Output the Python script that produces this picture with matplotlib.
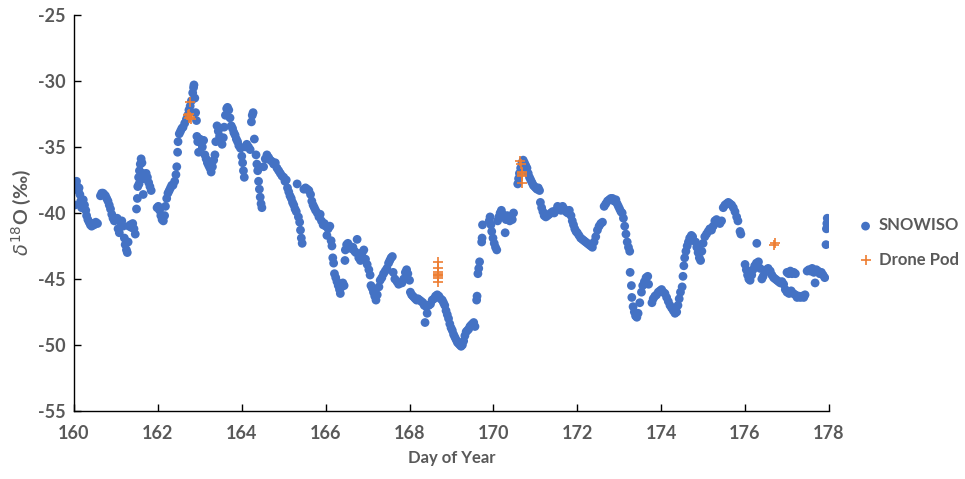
import matplotlib
matplotlib.use("Agg")
import matplotlib.pyplot as plt

# SNOWISO d18O, (day of year, value), one list per day
snow_160 = [(160.02, -39.4), (160.04, -37.9), (160.06, -37.6), (160.08, -38.0), (160.10, -38.3),
            (160.12, -38.1), (160.14, -38.6), (160.16, -39.1), (160.18, -39.6), (160.20, -39.2),
            (160.22, -39.0), (160.25, -39.4), (160.28, -39.8), (160.30, -40.2), (160.33, -40.5),
            (160.36, -40.7), (160.39, -40.9), (160.42, -41.0), (160.45, -40.8), (160.48, -40.9),
            (160.52, -40.7), (160.56, -40.8), (160.63, -38.7), (160.66, -38.5), (160.69, -38.5),
            (160.72, -38.6), (160.75, -38.7), (160.78, -38.9), (160.81, -39.1), (160.84, -39.4),
            (160.87, -39.7), (160.90, -40.1), (160.93, -40.4), (160.96, -40.6)]
snow_161 = [(161.00, -40.5), (161.03, -40.4), (161.05, -41.2), (161.08, -41.5), (161.11, -40.7),
            (161.14, -40.6), (161.17, -41.0), (161.20, -41.9), (161.22, -42.4), (161.25, -42.8),
            (161.27, -43.0), (161.29, -42.2), (161.31, -41.0), (161.34, -40.9), (161.37, -41.1),
            (161.40, -40.8), (161.43, -41.2), (161.46, -41.6), (161.49, -39.7), (161.51, -38.9),
            (161.52, -38.0), (161.54, -37.3), (161.56, -36.8), (161.58, -36.3), (161.60, -35.9),
            (161.62, -36.2), (161.64, -37.0), (161.65, -38.6), (161.66, -37.4), (161.69, -37.2),
            (161.72, -37.0), (161.75, -37.3), (161.78, -37.7), (161.81, -38.0), (161.84, -38.3),
            (161.55, -37.8)]
snow_162 = [(161.98, -39.6), (162.01, -39.5), (162.04, -39.8), (162.07, -40.2), (162.10, -40.5),
            (162.13, -40.6), (162.16, -40.2), (162.18, -39.5), (162.21, -38.9), (162.24, -38.5),
            (162.27, -38.3), (162.30, -38.1), (162.33, -37.9), (162.36, -37.9), (162.40, -37.6),
            (162.43, -37.1), (162.45, -36.5), (162.47, -35.4), (162.48, -34.6), (162.51, -34.0),
            (162.54, -33.8), (162.57, -33.6), (162.60, -33.5), (162.64, -33.2), (162.68, -32.9),
            (162.71, -32.6), (162.74, -32.2), (162.77, -31.9), (162.80, -31.5), (162.83, -30.9),
            (162.85, -30.5), (162.86, -30.3), (162.88, -31.3), (162.90, -32.4), (162.92, -33.0),
            (162.93, -34.2), (162.95, -34.6), (162.97, -35.4)]
snow_163 = [(163.00, -34.4), (163.03, -34.7), (163.06, -35.0), (163.09, -34.5), (163.12, -35.6),
            (163.15, -35.9), (163.18, -36.2), (163.21, -36.4), (163.24, -36.6), (163.27, -36.9),
            (163.30, -36.5), (163.33, -36.0), (163.36, -35.6), (163.38, -34.6), (163.41, -33.4),
            (163.44, -33.8), (163.47, -34.2), (163.50, -34.5), (163.53, -34.8), (163.56, -34.3),
            (163.58, -33.5), (163.61, -32.6), (163.64, -32.1), (163.66, -32.0), (163.69, -32.2),
            (163.72, -32.8), (163.75, -33.4), (163.78, -33.6), (163.81, -33.9), (163.84, -34.1),
            (163.87, -34.4), (163.90, -34.6), (163.93, -34.9), (163.97, -35.1)]
snow_164 = [(164.00, -35.7), (164.02, -36.2), (164.04, -36.8), (164.06, -37.3), (164.09, -35.0),
            (164.12, -34.8), (164.16, -35.0), (164.20, -35.2), (164.23, -33.1), (164.25, -32.6),
            (164.27, -32.4), (164.30, -34.4), (164.34, -35.6), (164.36, -36.3), (164.38, -36.8),
            (164.40, -37.6), (164.42, -38.2), (164.44, -38.8), (164.46, -39.3), (164.48, -39.6),
            (164.52, -36.5), (164.56, -35.9), (164.60, -35.6), (164.64, -35.8), (164.68, -36.0),
            (164.72, -36.1), (164.76, -36.3), (164.80, -36.2), (164.84, -36.6), (164.88, -36.8),
            (164.92, -37.0), (164.96, -37.2)]
snow_165 = [(165.00, -37.3), (165.03, -37.6), (165.06, -37.5), (165.09, -38.1), (165.12, -38.4),
            (165.15, -38.7), (165.18, -38.9), (165.21, -39.2), (165.24, -39.4), (165.27, -39.7),
            (165.30, -39.9), (165.32, -37.8), (165.35, -40.3), (165.38, -40.7), (165.40, -41.3),
            (165.42, -41.9), (165.44, -42.3), (165.48, -38.2), (165.52, -38.1), (165.56, -38.2),
            (165.60, -38.3), (165.64, -38.6), (165.67, -39.1), (165.70, -39.4), (165.73, -39.6),
            (165.76, -39.8), (165.80, -40.0), (165.84, -40.3), (165.87, -40.1), (165.90, -40.6),
            (165.94, -40.9), (165.97, -40.8)]
snow_166 = [(166.00, -41.0), (166.03, -41.7), (166.06, -41.2), (166.10, -41.0), (166.13, -42.1),
            (166.15, -42.5), (166.17, -43.4), (166.19, -43.8), (166.21, -44.6), (166.24, -44.9),
            (166.27, -45.2), (166.30, -45.5), (166.33, -45.8), (166.35, -46.1), (166.38, -45.6),
            (166.41, -45.3), (166.44, -45.5), (166.46, -43.6), (166.47, -42.8), (166.50, -42.4),
            (166.53, -42.3), (166.57, -42.5), (166.61, -42.7), (166.65, -42.6), (166.69, -42.9),
            (166.72, -43.0), (166.75, -42.0), (166.79, -43.4), (166.83, -43.6), (166.87, -43.0),
            (166.91, -42.8), (166.95, -43.5), (166.99, -43.9)]
snow_167 = [(167.03, -44.3), (167.06, -44.7), (167.08, -45.5), (167.11, -45.7), (167.14, -46.0),
            (167.17, -46.3), (167.20, -46.6), (167.23, -46.2), (167.27, -45.6), (167.30, -45.1),
            (167.34, -44.9), (167.38, -44.6), (167.42, -44.4), (167.46, -44.2), (167.50, -43.8),
            (167.53, -43.6), (167.56, -43.4), (167.59, -43.3), (167.61, -44.5), (167.65, -45.0),
            (167.70, -45.2), (167.74, -45.4), (167.78, -45.3), (167.82, -45.3), (167.86, -45.0),
            (167.90, -44.5), (167.93, -44.3), (167.96, -44.6), (168.00, -45.1)]
snow_168 = [(168.02, -46.0), (168.05, -46.2), (168.08, -46.3), (168.11, -46.4), (168.14, -46.5),
            (168.17, -46.6), (168.20, -46.5), (168.24, -46.6), (168.28, -46.7), (168.32, -46.8),
            (168.35, -47.0), (168.37, -48.3), (168.40, -47.1), (168.42, -47.6), (168.46, -47.0),
            (168.50, -46.9), (168.54, -46.6), (168.58, -46.5), (168.62, -46.3), (168.66, -46.2),
            (168.70, -46.3), (168.74, -46.5), (168.78, -46.6), (168.81, -46.8), (168.84, -47.0),
            (168.87, -47.4), (168.90, -47.7), (168.93, -48.0), (168.96, -48.4), (168.99, -48.7)]
snow_169 = [(169.02, -48.9), (169.05, -49.2), (169.08, -49.4), (169.11, -49.6), (169.14, -49.8),
            (169.17, -49.9), (169.20, -50.0), (169.23, -50.1), (169.26, -50.0), (169.29, -49.7),
            (169.32, -49.3), (169.35, -49.0), (169.38, -48.9), (169.41, -48.8), (169.44, -48.6),
            (169.47, -48.5), (169.50, -48.4), (169.53, -48.3), (169.56, -48.6), (169.60, -46.6),
            (169.61, -46.3), (169.63, -44.6), (169.65, -44.2), (169.67, -43.7), (169.72, -42.2),
            (169.73, -41.9), (169.74, -40.9), (169.90, -40.6), (169.92, -40.3), (169.94, -40.9),
            (169.96, -41.4), (169.99, -41.9)]
snow_170 = [(170.02, -42.3), (170.05, -42.6), (170.08, -42.8), (170.10, -40.6), (170.13, -40.3),
            (170.16, -40.0), (170.19, -39.8), (170.22, -40.1), (170.25, -40.3), (170.28, -41.5),
            (170.30, -40.5), (170.33, -40.2), (170.36, -40.4), (170.39, -40.6), (170.42, -40.3),
            (170.45, -40.5), (170.48, -40.0), (170.58, -37.8), (170.60, -37.4), (170.62, -37.0),
            (170.65, -36.6), (170.68, -36.2), (170.71, -36.0), (170.74, -36.2), (170.77, -36.4),
            (170.80, -36.6), (170.83, -37.0), (170.86, -37.3), (170.89, -37.5), (170.92, -37.7),
            (170.95, -37.9), (170.98, -38.0)]
snow_171 = [(171.01, -38.1), (171.04, -38.2), (171.07, -38.1), (171.10, -38.3), (171.12, -39.2),
            (171.15, -39.6), (171.18, -39.9), (171.21, -40.2), (171.25, -40.3), (171.29, -40.2),
            (171.33, -40.1), (171.37, -40.0), (171.41, -39.9), (171.45, -40.0), (171.49, -39.8),
            (171.53, -39.5), (171.57, -39.6), (171.61, -39.8), (171.65, -39.5), (171.69, -39.7),
            (171.73, -39.9), (171.77, -40.0), (171.81, -39.8), (171.85, -40.2), (171.88, -40.6),
            (171.91, -40.9), (171.94, -41.2), (171.97, -41.4)]
snow_172 = [(172.00, -41.5), (172.04, -41.7), (172.08, -41.9), (172.12, -42.0), (172.16, -42.1),
            (172.20, -42.2), (172.24, -42.3), (172.28, -42.4), (172.32, -42.5), (172.36, -42.6),
            (172.40, -42.2), (172.44, -41.8), (172.48, -41.3), (172.52, -41.0), (172.56, -40.8),
            (172.60, -40.7), (172.64, -39.5), (172.68, -39.3), (172.72, -39.1), (172.76, -39.0),
            (172.80, -38.9), (172.84, -38.9), (172.88, -39.1), (172.92, -39.0), (172.95, -39.3),
            (172.98, -39.5), (173.01, -39.7), (173.04, -39.9), (173.07, -40.0)]
snow_173 = [(173.10, -40.4), (173.13, -41.0), (173.16, -41.6), (173.19, -42.2), (173.22, -42.6),
            (173.25, -42.9), (173.26, -44.5), (173.29, -45.5), (173.30, -46.4), (173.33, -47.1),
            (173.36, -47.5), (173.39, -47.8), (173.42, -47.9), (173.45, -47.6), (173.49, -46.8),
            (173.53, -46.0), (173.56, -45.5), (173.60, -45.2), (173.64, -44.9), (173.68, -44.8),
            (173.70, -45.4), (173.78, -46.8), (173.81, -46.5), (173.85, -46.3), (173.89, -46.2),
            (173.93, -46.0), (173.97, -45.9)]
snow_174 = [(174.01, -45.8), (174.05, -46.0), (174.09, -46.1), (174.13, -46.4), (174.17, -46.7),
            (174.21, -47.0), (174.25, -47.2), (174.29, -47.4), (174.33, -47.6), (174.37, -47.5),
            (174.40, -47.0), (174.43, -46.5), (174.46, -46.0), (174.50, -45.6), (174.52, -44.8),
            (174.54, -44.0), (174.56, -43.4), (174.59, -42.9), (174.62, -42.5), (174.65, -42.2),
            (174.68, -41.9), (174.72, -41.7), (174.75, -41.8), (174.82, -42.2), (174.85, -42.6),
            (174.88, -43.0), (174.91, -43.4), (174.94, -43.6), (174.97, -42.9)]
snow_175 = [(175.00, -42.3), (175.04, -41.8), (175.08, -41.6), (175.12, -41.4), (175.16, -41.2),
            (175.20, -41.3), (175.24, -41.0), (175.28, -40.6), (175.32, -40.5), (175.36, -40.7),
            (175.40, -40.8), (175.44, -40.6), (175.48, -39.6), (175.52, -39.4), (175.56, -39.3),
            (175.60, -39.2), (175.64, -39.3), (175.68, -39.4), (175.72, -39.6), (175.76, -39.9),
            (175.80, -40.3), (175.83, -40.6), (175.88, -41.4), (175.90, -41.6)]
snow_176 = [(176.00, -43.9), (176.03, -44.3), (176.06, -44.7), (176.09, -45.0), (176.12, -45.1),
            (176.16, -44.7), (176.19, -44.3), (176.23, -44.0), (176.27, -43.8), (176.28, -42.3),
            (176.32, -43.7), (176.36, -44.2), (176.40, -45.0), (176.43, -44.8), (176.47, -44.5),
            (176.51, -44.3), (176.55, -44.2), (176.60, -44.4), (176.64, -44.7), (176.68, -44.9),
            (176.72, -45.0), (176.76, -45.1), (176.80, -45.2), (176.84, -45.3), (176.88, -45.2),
            (176.92, -45.4), (176.96, -45.8)]
snow_177 = [(177.00, -44.5), (177.04, -44.6), (177.08, -44.4), (177.12, -44.6), (177.16, -44.5),
            (177.20, -44.6), (177.00, -46.0), (177.05, -46.1), (177.10, -45.9), (177.15, -46.1),
            (177.20, -46.2), (177.24, -46.4), (177.28, -46.3), (177.32, -46.4), (177.36, -46.3),
            (177.40, -46.4), (177.43, -46.2), (177.48, -44.4), (177.52, -44.3), (177.56, -44.4),
            (177.60, -44.2), (177.64, -44.5), (177.67, -45.3), (177.70, -44.3), (177.74, -44.4),
            (177.78, -44.6), (177.82, -44.5), (177.86, -44.7), (177.90, -44.9), (177.93, -42.4),
            (177.94, -41.2), (177.95, -40.8), (177.96, -40.4)]

drone_pod = [(162.77, -31.6), (162.72, -32.6), (162.74, -32.8), (162.76, -32.7), (162.78, -32.9),
             (162.74, -32.5),
             (168.67, -43.7), (168.67, -44.2), (168.68, -44.5), (168.68, -44.6), (168.69, -44.7),
             (168.68, -44.8), (168.67, -44.9), (168.68, -45.2),
             (170.63, -36.1), (170.66, -36.3), (170.67, -36.9), (170.68, -37.0), (170.67, -37.1),
             (170.68, -37.2), (170.69, -37.7),
             (176.70, -42.4), (176.72, -42.3)]

x_ticks = [160, 162, 164, 166, 168, 170, 172, 174, 176, 178]
y_ticks = [-55, -50, -45, -40, -35, -30, -25]

GREY = "#595959"
plt.rcParams["font.family"] = ["Lato", "DejaVu Sans"]
plt.rcParams["axes.unicode_minus"] = False

snowiso = (snow_160 + snow_161 + snow_162 + snow_163 + snow_164 + snow_165 + snow_166
           + snow_167 + snow_168 + snow_169 + snow_170 + snow_171 + snow_172 + snow_173
           + snow_174 + snow_175 + snow_176 + snow_177)
sx = [p[0] for p in snowiso]
sy = [p[1] for p in snowiso]
dx = [p[0] for p in drone_pod]
dy = [p[1] for p in drone_pod]

fig = plt.figure(figsize=(9.65, 4.79), dpi=100)
ax = fig.add_axes([0.0767, 0.142, 0.7823, 0.8268])

ax.scatter(sx, sy, s=40, color="#4472C4", edgecolors="none", label="SNOWISO", zorder=2)
ax.scatter(dx, dy, s=50, marker="+", color="#ED7D31", linewidths=1.2, label="Drone Pod", zorder=3)

ax.set_xlim(160, 178)
ax.set_ylim(-55, -25)
ax.set_xticks(x_ticks)
ax.set_yticks(y_ticks)
ax.tick_params(direction="in", length=5, width=1, colors="black", labelcolor=GREY,
               labelsize=13)
ax.tick_params(axis="x", pad=10)
ax.tick_params(axis="y", pad=6)
for lab in ax.get_xticklabels() + ax.get_yticklabels():
    lab.set_fontweight("bold")
for side in ["top", "right"]:
    ax.spines[side].set_visible(False)
ax.spines["left"].set_linewidth(1)
ax.spines["bottom"].set_linewidth(1)

ax.set_xlabel("Day of Year", fontsize=12, fontweight="bold", color=GREY, labelpad=6)
ax.set_ylabel(r"$\delta^{18}$O (‰)", fontsize=14, fontweight="bold", color=GREY, labelpad=4)

leg = ax.legend(loc="center left", bbox_to_anchor=(1.022, 0.425), frameon=False,
                prop={"size": 12, "weight": "bold"}, handletextpad=0.3,
                labelspacing=1.1, borderaxespad=0.3, handlelength=1.0)
for t in leg.get_texts():
    t.set_color(GREY)

fig.savefig("out.png", dpi=100)
